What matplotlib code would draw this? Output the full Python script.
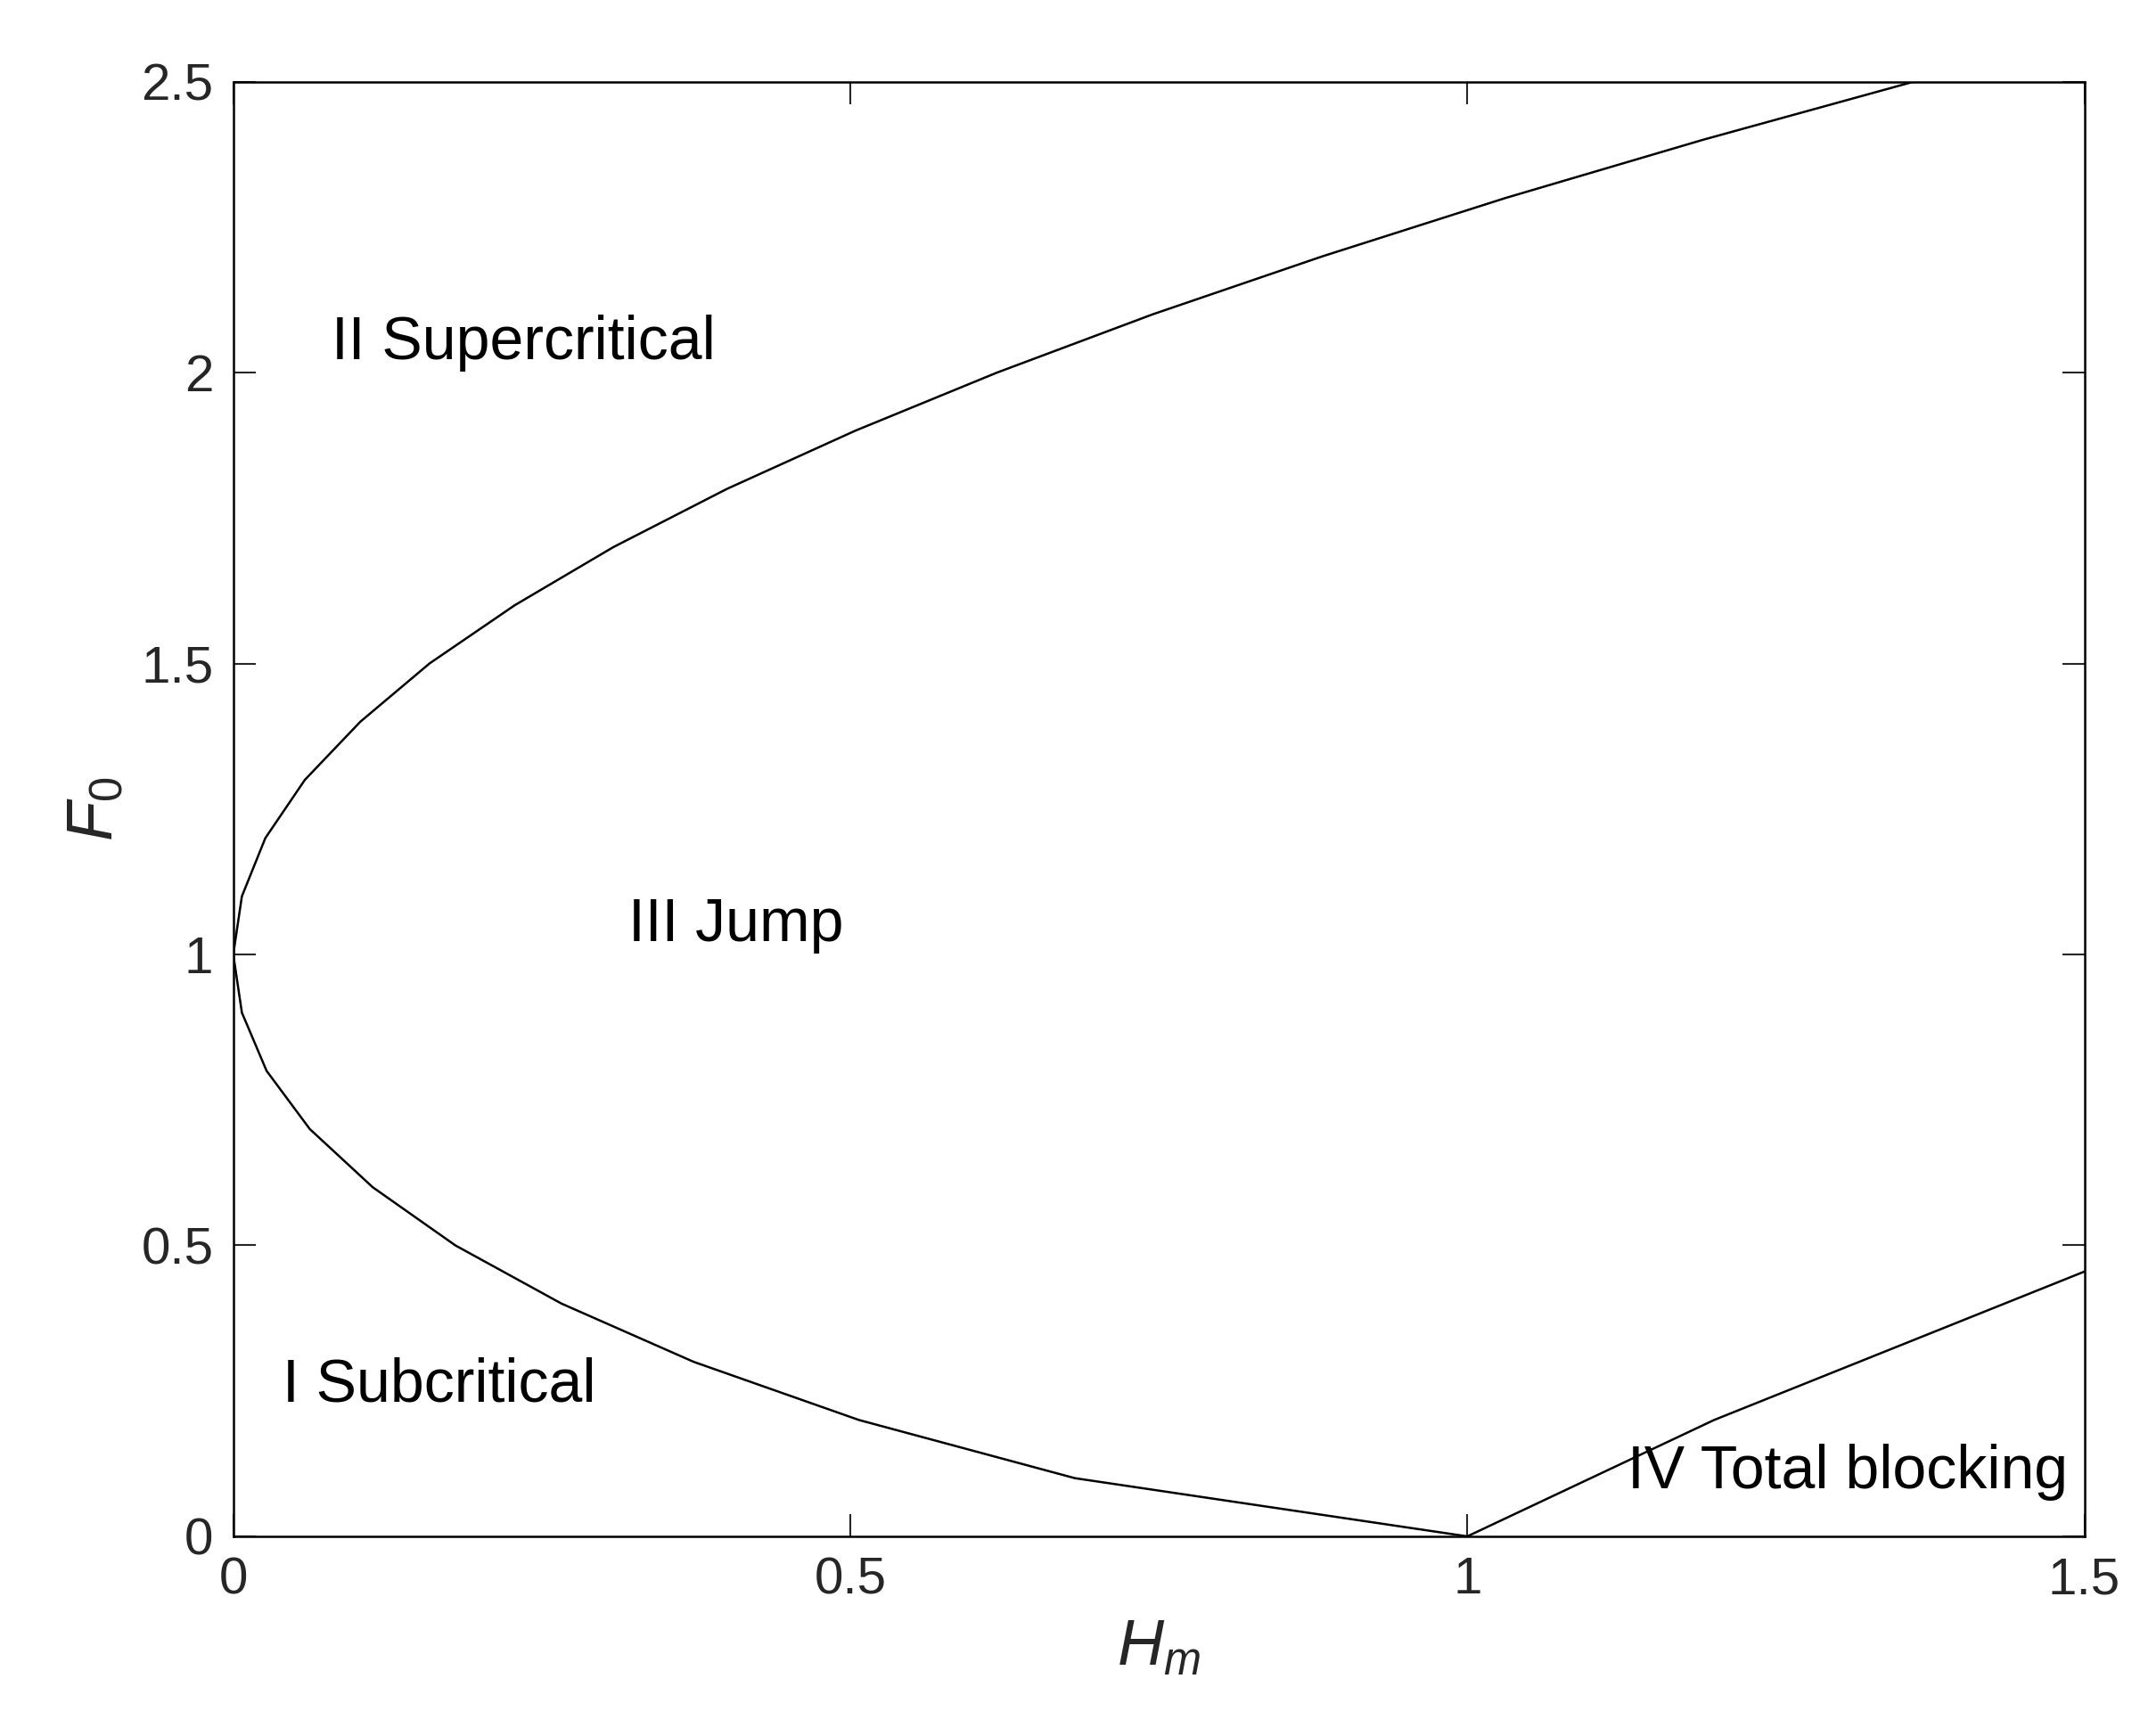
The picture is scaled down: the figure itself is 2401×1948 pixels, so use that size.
import matplotlib
matplotlib.use("Agg")
import matplotlib.pyplot as plt

plt.rcParams["font.family"] = ["Liberation Sans", "DejaVu Sans"]
plt.rcParams["mathtext.fontset"] = "custom"
plt.rcParams["mathtext.it"] = "Liberation Sans:italic"
plt.rcParams["mathtext.rm"] = "Liberation Sans"

# critical curve (F0 sampled every 0.1)
crit_f0 = [0.0, 0.1, 0.2, 0.3, 0.4, 0.5, 0.6, 0.7, 0.8, 0.9, 1.0, 1.1, 1.2,
           1.3, 1.4, 1.5, 1.6, 1.7, 1.8, 1.9, 2.0, 2.1, 2.2, 2.3, 2.4, 2.5]
crit_hm = [1.0, 0.682, 0.507, 0.373, 0.266, 0.180, 0.113, 0.062, 0.027, 0.007,
           0.0, 0.007, 0.026, 0.058, 0.103, 0.159, 0.228, 0.308, 0.400, 0.504,
           0.619, 0.745, 0.883, 1.031, 1.191, 1.362]

# total blocking boundary
block_hm = [1.0, 1.1, 1.2, 1.3, 1.4, 1.5]
block_f0 = [0.0, 0.1, 0.2, 0.285, 0.37, 0.455]

regions = [("II Supercritical", 0.08, 2.05),
           ("III Jump", 0.32, 1.05),
           ("I Subcritical", 0.04, 0.26),
           ("IV Total blocking", 1.13, 0.11)]

fig = plt.figure(figsize=(24.01, 19.48), dpi=100)
ax = fig.add_axes([0.109, 0.115, 0.865, 0.838])
ax.plot(crit_hm, crit_f0, color="black", lw=1.8)
ax.plot(block_hm, block_f0, color="black", lw=1.8)
for txt, x, y in regions:
    ax.text(x, y, txt, fontsize=49, va="center", ha="left")

ax.set_xlim(0, 1.5)
ax.set_ylim(0, 2.5)
ax.set_xticks([0, 0.5, 1, 1.5])
ax.set_xticklabels(["0", "0.5", "1", "1.5"])
ax.set_yticks([0, 0.5, 1, 1.5, 2, 2.5])
ax.set_yticklabels(["0", "0.5", "1", "1.5", "2", "2.5"])
ax.tick_params(direction="in", top=True, right=True, length=18, width=1.5,
               labelsize=42, pad=16, colors="#262626")
for s in ax.spines.values():
    s.set_linewidth(1.8)
ax.set_xlabel("$H_m$", fontsize=52, color="#262626", labelpad=12)
ax.set_ylabel("$F_0$", fontsize=52, color="#262626", labelpad=12)
fig.savefig("out.png", dpi=100, facecolor="white")
